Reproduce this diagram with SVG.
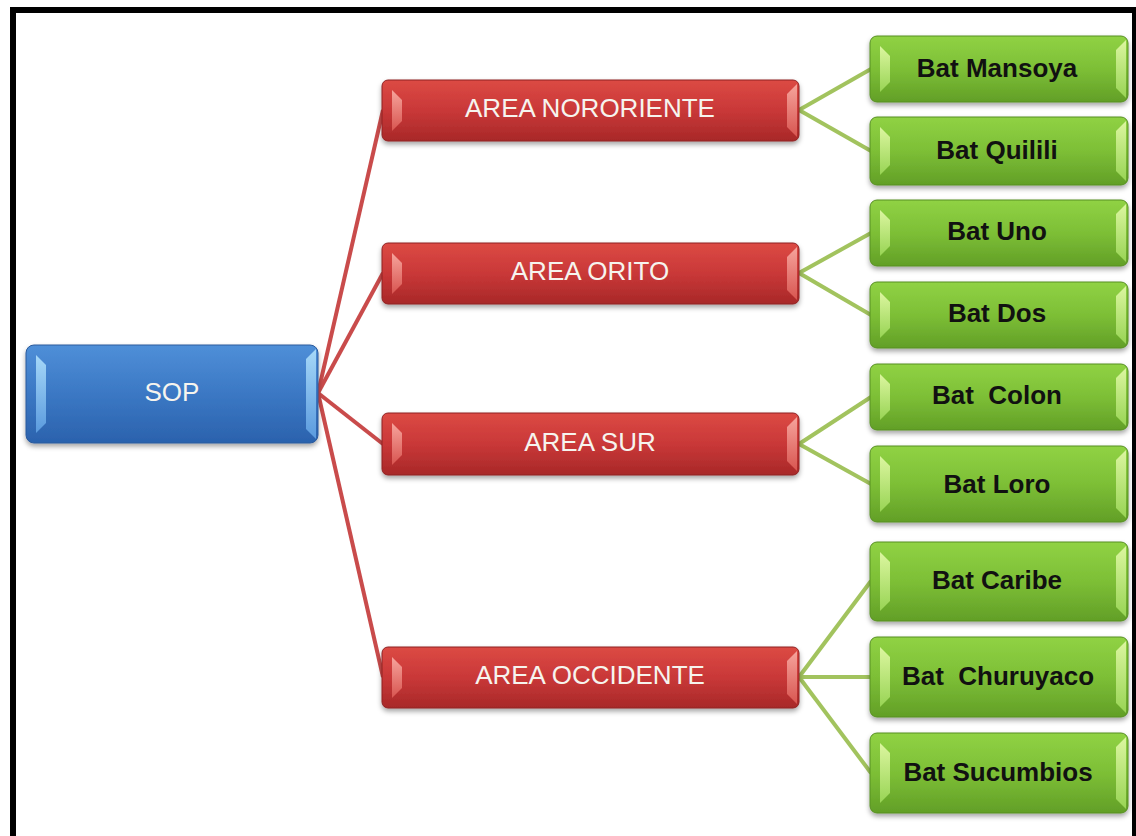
<svg xmlns="http://www.w3.org/2000/svg" width="1136" height="836" viewBox="0 0 1136 836">
<defs>
<linearGradient id="gBlue" x1="0" y1="0" x2="0" y2="1">
<stop offset="0" stop-color="#4f8fd8"/><stop offset="0.5" stop-color="#3b78c4"/><stop offset="1" stop-color="#2b62ad"/>
</linearGradient>
<linearGradient id="gRed" x1="0" y1="0" x2="0" y2="1">
<stop offset="0" stop-color="#dc4a44"/><stop offset="0.5" stop-color="#c93838"/><stop offset="1" stop-color="#a82828"/>
</linearGradient>
<linearGradient id="gGreen" x1="0" y1="0" x2="0" y2="1">
<stop offset="0" stop-color="#90d244"/><stop offset="0.5" stop-color="#7dbf36"/><stop offset="1" stop-color="#629f27"/>
</linearGradient>
<linearGradient id="bBlue" x1="0" y1="0" x2="0" y2="1">
<stop offset="0" stop-color="#a6d8f8"/><stop offset="1" stop-color="#5a9ade"/>
</linearGradient>
<linearGradient id="bRed" x1="0" y1="0" x2="0" y2="1">
<stop offset="0" stop-color="#f6a49c"/><stop offset="1" stop-color="#d85550"/>
</linearGradient>
<linearGradient id="bGreen" x1="0" y1="0" x2="0" y2="1">
<stop offset="0" stop-color="#dcf6a0"/><stop offset="1" stop-color="#98d454"/>
</linearGradient>
<filter id="sh" x="-5%" y="-10%" width="110%" height="130%">
<feDropShadow dx="0" dy="3" stdDeviation="2.5" flood-color="#000" flood-opacity="0.35"/>
</filter>
</defs>
<style>
.blue rect{fill:url(#gBlue);stroke:#2a5a9c;stroke-width:1}
.blue polygon{fill:url(#bBlue)}
.red rect{fill:url(#gRed);stroke:#8e2222;stroke-width:1}
.red polygon{fill:url(#bRed)}
.green rect{fill:url(#gGreen);stroke:#578f22;stroke-width:1}
.green polygon{fill:url(#bGreen)}
.node rect{filter:url(#sh)}
.wt{font-family:"Liberation Sans",Arial,sans-serif;font-size:26px;fill:#f6f4ee;text-anchor:middle;white-space:pre}
.bt{font-family:"Liberation Sans",Arial,sans-serif;font-size:26px;font-weight:bold;fill:#111;text-anchor:middle;white-space:pre}
.cr{stroke:#c94b4b;stroke-width:4;fill:none}
.cg{stroke:#a2c35e;stroke-width:4;fill:none}
</style>
<rect x="13" y="10" width="1122" height="840" fill="#fff" stroke="#000" stroke-width="6"/>
<g id="connectors">
<line class="cr" x1="318" y1="393" x2="383" y2="110"/>
<line class="cr" x1="318" y1="393" x2="383" y2="273"/>
<line class="cr" x1="318" y1="393" x2="383" y2="444"/>
<line class="cr" x1="318" y1="393" x2="383" y2="677"/>
<line class="cg" x1="799" y1="110" x2="871" y2="69"/>
<line class="cg" x1="799" y1="110" x2="871" y2="151"/>
<line class="cg" x1="799" y1="273" x2="871" y2="233"/>
<line class="cg" x1="799" y1="273" x2="871" y2="315"/>
<line class="cg" x1="799" y1="444" x2="871" y2="397"/>
<line class="cg" x1="799" y1="444" x2="871" y2="484"/>
<line class="cg" x1="799" y1="677" x2="871" y2="581"/>
<line class="cg" x1="799" y1="677" x2="871" y2="677"/>
<line class="cg" x1="799" y1="677" x2="871" y2="773"/>
</g>
<g id="sop" class="node blue">
<rect x="26" y="345" width="292" height="98" rx="8"/>
<polygon points="36,355 46,365 46,423 36,433"/>
<polygon points="316,349 306,359 306,429 316,439"/>
<text class="wt" x="172" y="401">SOP</text>
</g>
<g id="area-nororiente" class="node red">
<rect x="382" y="80" width="417" height="61" rx="6"/>
<polygon points="392,90 402,100 402,121 392,131"/>
<polygon points="797,84 787,94 787,127 797,137"/>
<text class="wt" x="590" y="117">AREA NORORIENTE</text>
</g>
<g id="area-orito" class="node red">
<rect x="382" y="243" width="417" height="61" rx="6"/>
<polygon points="392,253 402,263 402,284 392,294"/>
<polygon points="797,247 787,257 787,290 797,300"/>
<text class="wt" x="590" y="280">AREA ORITO</text>
</g>
<g id="area-sur" class="node red">
<rect x="382" y="413" width="417" height="62" rx="6"/>
<polygon points="392,423 402,433 402,455 392,465"/>
<polygon points="797,417 787,427 787,461 797,471"/>
<text class="wt" x="590" y="451">AREA SUR</text>
</g>
<g id="area-occidente" class="node red">
<rect x="382" y="647" width="417" height="61" rx="6"/>
<polygon points="392,657 402,667 402,688 392,698"/>
<polygon points="797,651 787,661 787,694 797,704"/>
<text class="wt" x="590" y="684">AREA OCCIDENTE</text>
</g>
<g id="bat-mansoya" class="node green">
<rect x="870" y="36" width="258" height="66" rx="7"/>
<polygon points="880,46 890,56 890,82 880,92"/>
<polygon points="1126,40 1116,50 1116,88 1126,98"/>
<text class="bt" x="997" y="77">Bat Mansoya</text>
</g>
<g id="bat-quilili" class="node green">
<rect x="870" y="117" width="258" height="68" rx="7"/>
<polygon points="880,127 890,137 890,165 880,175"/>
<polygon points="1126,121 1116,131 1116,171 1126,181"/>
<text class="bt" x="997" y="159">Bat Quilili</text>
</g>
<g id="bat-uno" class="node green">
<rect x="870" y="200" width="258" height="66" rx="7"/>
<polygon points="880,210 890,220 890,246 880,256"/>
<polygon points="1126,204 1116,214 1116,252 1126,262"/>
<text class="bt" x="997" y="240">Bat Uno</text>
</g>
<g id="bat-dos" class="node green">
<rect x="870" y="282" width="258" height="66" rx="7"/>
<polygon points="880,292 890,302 890,328 880,338"/>
<polygon points="1126,286 1116,296 1116,334 1126,344"/>
<text class="bt" x="997" y="322">Bat Dos</text>
</g>
<g id="bat-colon" class="node green">
<rect x="870" y="364" width="258" height="66" rx="7"/>
<polygon points="880,374 890,384 890,410 880,420"/>
<polygon points="1126,368 1116,378 1116,416 1126,426"/>
<text class="bt" x="997" y="404">Bat  Colon</text>
</g>
<g id="bat-loro" class="node green">
<rect x="870" y="446" width="258" height="76" rx="7"/>
<polygon points="880,456 890,466 890,502 880,512"/>
<polygon points="1126,450 1116,460 1116,508 1126,518"/>
<text class="bt" x="997" y="493">Bat Loro</text>
</g>
<g id="bat-caribe" class="node green">
<rect x="870" y="542" width="258" height="79" rx="7"/>
<polygon points="880,552 890,562 890,601 880,611"/>
<polygon points="1126,546 1116,556 1116,607 1126,617"/>
<text class="bt" x="997" y="589">Bat Caribe</text>
</g>
<g id="bat-churuyaco" class="node green">
<rect x="870" y="637" width="258" height="80" rx="7"/>
<polygon points="880,647 890,657 890,697 880,707"/>
<polygon points="1126,641 1116,651 1116,703 1126,713"/>
<text class="bt" x="998" y="685">Bat  Churuyaco</text>
</g>
<g id="bat-sucumbios" class="node green">
<rect x="870" y="733" width="258" height="80" rx="7"/>
<polygon points="880,743 890,753 890,793 880,803"/>
<polygon points="1126,737 1116,747 1116,799 1126,809"/>
<text class="bt" x="998" y="781">Bat Sucumbios</text>
</g>
</svg>
